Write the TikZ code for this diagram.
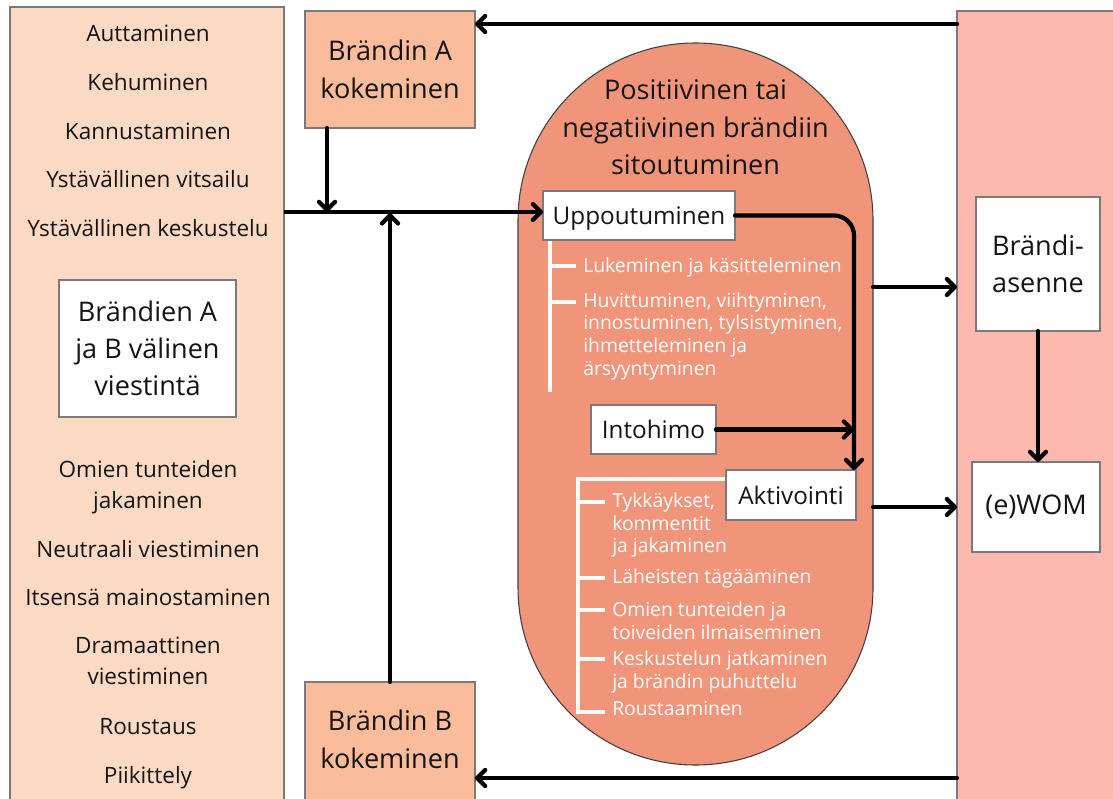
\documentclass[tikz,border=0pt]{standalone}
\usepackage{fontspec}
\setmainfont{Open Sans}
\usetikzlibrary{arrows.meta}
\definecolor{lpan}{HTML}{FDDAC4}
\definecolor{abfill}{HTML}{FBBC9B}
\definecolor{engfill}{HTML}{F0957A}
\definecolor{rpan}{HTML}{FEB9AF}
\definecolor{edgegray}{HTML}{7A7A7A}
\definecolor{inktext}{HTML}{141414}
\newcommand\fsList{\fontsize{16.9pt}{23.25pt}\selectfont}
\newcommand\fsBig{\fontsize{20.3pt}{28pt}\selectfont}
\newcommand\fsMid{\fontsize{18.2pt}{24pt}\selectfont}
\newcommand\fsSmall{\fontsize{14.5pt}{17pt}\selectfont}
\tikzset{
  wh/.style 2 args={minimum width=#1*0.75pt, minimum height=#2*0.75pt},
  panel/.style={draw=edgegray, line width=0.8pt, inner sep=0pt, outer sep=0pt},
  abbox/.style={draw=edgegray, fill=abfill, line width=0.8pt, inner sep=0pt, outer sep=0pt, align=center, font=\fsBig, text=inktext},
  whitebox/.style={draw=edgegray, fill=white, line width=0.8pt, inner sep=0pt, outer sep=0pt, align=center, text=inktext},
  engage/.style={draw=black!75, fill=engfill, line width=0.8pt, minimum width=266.25pt, minimum height=541.5pt, rounded corners=133pt, inner sep=0pt, outer sep=0pt},
  listtxt/.style={font=\fsList, text=inktext, align=center, inner sep=0pt},
  bigtxt/.style={font=\fsBig, text=inktext, align=center, inner sep=0pt},
  smalltxt/.style={font=\fsSmall, text=white, align=left, inner sep=0pt},
  arr/.style={line width=3.2pt, line cap=round, line join=round, -{Straight Barb[length=6pt, width=12pt, round]}},
  treeline/.style={draw=white, line width=3pt}
}
\begin{document}
\begin{tikzpicture}[x=0.75pt, y=-0.75pt]
\clip (0,0) rectangle (1113,799);
\fill[white] (0,0) rectangle (1113,799);

% panels
\node[panel, fill=lpan, wh={274}{800}] (lpanel) at (147,407) {};
\node[panel, fill=rpan, wh={170}{800}] (rpanel) at (1042,411) {};

% left list
\node[listtxt, anchor=base] (l1) at (148,41.7) {Auttaminen};
\node[listtxt, anchor=base] (l2) at (148,90.7) {Kehuminen};
\node[listtxt, anchor=base] (l3) at (148,139.3) {Kannustaminen};
\node[listtxt, anchor=base] (l4) at (148,187.7) {Ystävällinen vitsailu};
\node[listtxt, anchor=base] (l5) at (148,236) {Ystävällinen keskustelu};
\node[whitebox, font=\fsBig, wh={177}{137}] (brandien) at (147.5,348.5) {Brändien A\\ja B välinen\\viestintä};
\node[listtxt] (l6) at (148,486.7) {Omien tunteiden\\jakaminen};
\node[listtxt, anchor=base] (l7) at (148,557) {Neutraali viestiminen};
\node[listtxt, anchor=base] (l8) at (148,605) {Itsensä mainostaminen};
\node[listtxt] (l9) at (148,661) {Dramaattinen\\viestiminen};
\node[listtxt, anchor=base] (l10) at (148,734) {Roustaus};
\node[listtxt, anchor=base] (l11) at (148,783) {Piikittely};

% brand boxes
\node[abbox, wh={170}{117}] (Abox) at (390,69.5) {Brändin A\\kokeminen};
\node[abbox, wh={170}{130}] (Bbox) at (390,747) {};
\node[bigtxt] (Btxt) at (390,739.3) {Brändin B\\kokeminen};

% engagement capsule
\node[engage] (engage) at (695.5,404) {};
\node[bigtxt] (title) at (695.5,127.2) {Positiivinen tai\\negatiivinen brändiin\\sitoutuminen};

% white trees
\draw[treeline] (550,240) -- (550,392);
\draw[treeline] (550,266) -- (576,266);
\draw[treeline] (550,302) -- (576,302);
\draw[treeline] (726,479) -- (578,479) -- (578,712) -- (605,712);
\draw[treeline] (578,502) -- (605,502);
\draw[treeline] (578,578) -- (605,578);
\draw[treeline] (578,610) -- (605,610);
\draw[treeline] (578,659) -- (605,659);

\node[smalltxt, anchor=base west] (s1) at (583,272) {Lukeminen ja käsitteleminen};
\node[smalltxt, anchor=west] (s2) at (583,336) {Huvittuminen, viihtyminen,\\innostuminen, tylsistyminen,\\ihmetteleminen ja\\ärsyyntyminen};
\node[smalltxt, anchor=west] (s3) at (612,525) {Tykkäykset,\\kommentit\\ja jakaminen};
\node[smalltxt, anchor=base west] (s4) at (612,583) {Läheisten tägääminen};
\node[smalltxt, anchor=west] (s5) at (612,621) {Omien tunteiden ja\\toiveiden ilmaiseminen};
\node[smalltxt, anchor=west] (s6) at (612,672) {Keskustelun jatkaminen\\ja brändin puhuttelu};
\node[smalltxt, anchor=base west] (s7) at (612,715) {Roustaaminen};

% inner boxes
\node[whitebox, font=\fsMid, wh={192}{49}, text depth=0pt] (upp) at (639,215.5) {Uppoutuminen};
\node[whitebox, font=\fsMid, wh={125}{49}] (into) at (653.5,429.5) {Intohimo};
\node[whitebox, font=\fsMid, wh={130}{50}] (akt) at (791,495) {Aktivointi};

% right boxes
\node[whitebox, font=\fsBig, wh={124}{134}] (asenne) at (1038,264) {Brändi-\\asenne};
\node[whitebox, font=\fsBig, wh={128}{90}] (ewom) at (1036,507) {(e)WOM};

% helper coordinates
\coordinate (ytop) at (0,24);
\coordinate (ymain) at (0,212);
\coordinate (ybot) at (0,778);
\coordinate (yr1) at (0,287);
\coordinate (yr2) at (0,507);
\coordinate (xv) at (854,0);
\coordinate (xa) at (327,0);

% connectors
\draw[arr] (rpanel.west |- ytop) -- (Abox.east |- ytop);
\draw[arr] (rpanel.west |- ybot) -- (Bbox.east |- ybot);
\draw[line width=3.2pt] (lpanel.east |- ymain) -- (xa |- ymain);
\draw[arr] (xa |- ymain) -- (upp.west |- ymain);
\draw[arr] (xa |- Abox.south) -- (xa |- ymain);
\draw[arr] (Bbox.north) -- ([yshift=-1pt]Bbox.north |- ymain);
\draw[arr, rounded corners=15pt] (upp.east) -- (xv |- upp.east) -- (xv |- akt.north);
\draw[arr] (into.east) -- (xv |- into.east);
\draw[arr] (engage.east |- yr1) -- (rpanel.west |- yr1);
\draw[arr] (engage.east |- yr2) -- (rpanel.west |- yr2);
\draw[arr] (asenne.south) -- (asenne.south |- ewom.north);
\end{tikzpicture}
\end{document}
